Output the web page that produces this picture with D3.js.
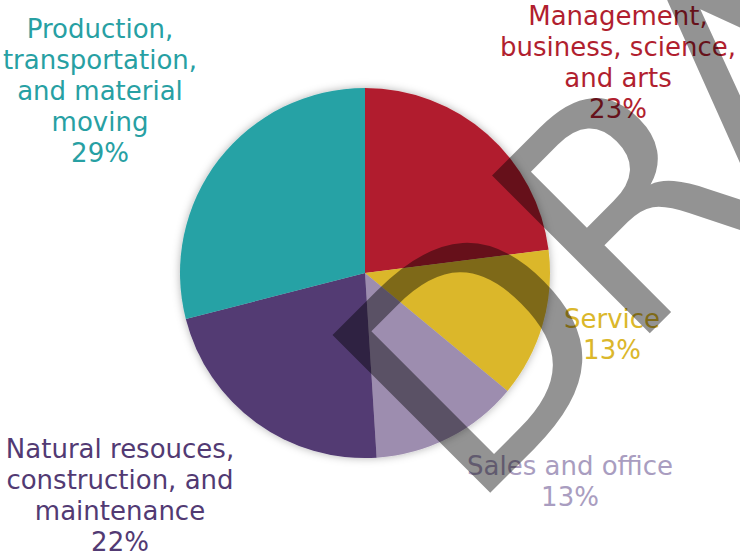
<!DOCTYPE html>
<html>
<head>
<meta charset="utf-8">
<script src="https://cdn.jsdelivr.net/npm/d3@7"></script>
<style>
	html, body { margin: 0; padding: 0; background: #fff; overflow: hidden; }
	svg { display: block; }
	text { font-family: "DejaVu Sans", sans-serif; }
</style>
</head>
<body>
<div id="chart"></div>
<script>
// slices, clockwise from 12 o'clock
const categories = [
	'Management, business, science, and arts',
	'Service',
	'Sales and office',
	'Natural resouces, construction, and maintenance',
	'Production, transportation, and material moving'
];
const values = [23, 13, 13, 22, 29];
const labelLines = [
	['Management,', 'business, science,', 'and arts'],
	['Service'],
	['Sales and office'],
	['Natural resouces,', 'construction, and', 'maintenance'],
	['Production,', 'transportation,', 'and material', 'moving']
];
const sliceColors = ['#b11f2f', '#dbb72b', '#9d8daf', '#523a73', '#26a2a5'];
const labelColors = ['#b11f2f', '#dbb72b', '#a99dc0', '#523a73', '#27a0a3'];
const watermark = 'DRAFT';

const width = 740;
const height = 556;
const center = {x: 365, y: 273};
const radius = 185;
const lineHeight = 31;

// where each label block sits (centre x, first baseline y)
const labelAnchors = [[618, 25], [612, 328], [570, 475], [120, 458], [100, 38]];

const svg = d3.select('#chart')
	.append('svg')
	.attr('width', width)
	.attr('height', height);

const defs = svg.append('defs');
defs.append('filter')
	.attr('id', 'shadow')
	.attr('x', '-20%').attr('y', '-20%')
	.attr('width', '140%').attr('height', '140%')
	.append('feDropShadow')
	.attr('dx', 0)
	.attr('dy', 0)
	.attr('stdDeviation', 4)
	.attr('flood-color', '#000')
	.attr('flood-opacity', 0.3);

const data = categories.map((name, i) => ({name, value: values[i], i}));

const pie = d3.pie()
	.sort(null)
	.value(d => d.value);

const arc = d3.arc()
	.innerRadius(0)
	.outerRadius(radius);

svg.append('g')
	.attr('transform', `translate(${center.x},${center.y})`)
	.attr('filter', 'url(#shadow)')
	.selectAll('path')
	.data(pie(data))
	.join('path')
	.attr('d', arc)
	.attr('fill', d => sliceColors[d.data.i]);

const labels = svg.append('g')
	.selectAll('text')
	.data(data)
	.join('text')
	.attr('text-anchor', 'middle')
	.attr('font-size', 26)
	.attr('fill', d => labelColors[d.i])
	.attr('x', d => labelAnchors[d.i][0])
	.attr('y', d => labelAnchors[d.i][1]);

labels.selectAll('tspan')
	.data(d => labelLines[d.i].concat([`${d.value}%`]).map((t, k) => ({t, k, d})))
	.join('tspan')
	.attr('x', l => labelAnchors[l.d.i][0])
	.attr('dy', l => l.k === 0 ? 0 : lineHeight)
	.text(l => l.t);

// watermark on top of everything
svg.append('text')
	.attr('transform', 'translate(469,514) rotate(-45)')
	.attr('font-size', 306)
	.attr('letter-spacing', -10)
	.attr('fill', '#000')
	.attr('opacity', 0.42)
	.text(watermark);
</script>
</body>
</html>
